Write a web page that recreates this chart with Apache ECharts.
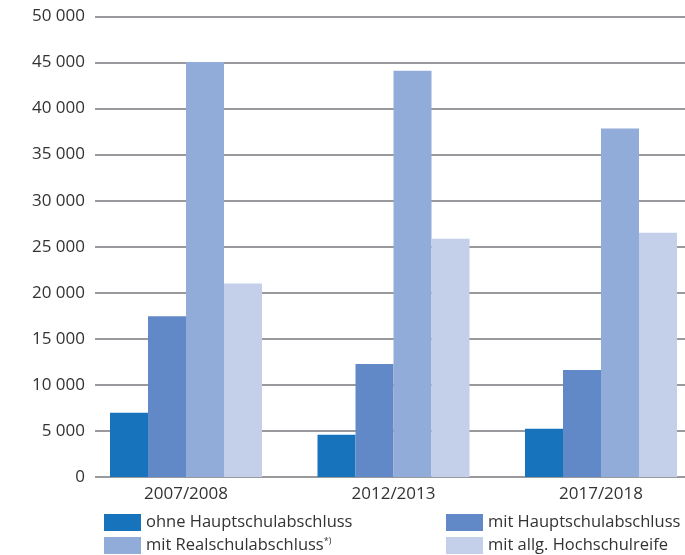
<!DOCTYPE html>
<html><head><meta charset="utf-8">
<script src="https://cdn.jsdelivr.net/npm/echarts@6/dist/echarts.min.js"></script>
<style>html,body{margin:0;padding:0;background:#fff}#c{width:685px;height:555px}</style>
</head><body><div id="c"></div>
<script>
const categories = ['2007/2008', '2012/2013', '2017/2018'];
const ohneHauptschul = [6980, 4600, 5250];
const mitHauptschul = [17450, 12270, 11620];
const mitRealschul = [45050, 44100, 37850];
const mitHochschulreife = [21000, 25860, 26510];
const seriesNames = ['ohne Hauptschulabschluss', 'mit Hauptschulabschluss', 'mit Realschulabschluss', 'mit allg. Hochschulreife'];
const yTicks = [0, 5000, 10000, 15000, 20000, 25000, 30000, 35000, 40000, 45000, 50000];
const colors = ['#1773bc', '#6289c7', '#91acd8', '#c4cfe9'];

const FONT = 'Open Sans';
const TEXT = '#333333';
const gTop = 16.5, gBottom = 78;
const chart = echarts.init(document.getElementById('c'));
const values = [ohneHauptschul, mitHauptschul, mitRealschul, mitHochschulreife];

function legendAt(i, left, topPos, fmt) {
  return {
    data: [seriesNames[i]], left: left, top: topPos, itemWidth: 37, itemHeight: 17,
    itemGap: 0, selectedMode: false, icon: 'rect', padding: 0,
    textStyle: { fontFamily: FONT, fontSize: 16.5, color: TEXT, padding: [0, 0, 0, 0],
      rich: { a: { fontFamily: FONT, fontSize: 16.5, color: TEXT }, s: { fontFamily: FONT, fontSize: 9, color: TEXT, verticalAlign: 'top', padding: [0, 0, 8, 0] } } },
    formatter: fmt
  };
}

chart.setOption({
  animation: false,
  grid: [
    { left: 82.25, width: 622.5, top: gTop, bottom: gBottom, outerBoundsMode: 'none', containLabel: false },
    { left: 95, right: 0, top: gTop, bottom: gBottom, outerBoundsMode: 'none', containLabel: false }
  ],
  xAxis: [
    { type: 'category', gridIndex: 0, data: categories,
      axisLine: { show: false }, axisTick: { show: false },
      axisLabel: { fontFamily: FONT, fontSize: 17, color: TEXT, margin: 9 } },
    { type: 'category', gridIndex: 1, data: categories, show: false }
  ],
  yAxis: [
    { type: 'value', gridIndex: 0, min: 0, max: 50000, interval: 5000, show: false, splitLine: { show: false } },
    { type: 'value', gridIndex: 1, min: 0, max: 50000, interval: 5000,
      axisLine: { show: false }, axisTick: { show: false },
      splitLine: { show: true, lineStyle: { color: '#9a9a9e', width: 2 } },
      axisLabel: { fontFamily: FONT, fontSize: 17, color: TEXT, margin: 10,
        formatter: v => yTicks.includes(v) ? String(v).replace(/\B(?=(\d{3})+(?!\d))/g, ' ') : '' } }
  ],
  legend: [
    legendAt(0, 104, 514, '{name}'),
    legendAt(1, 446, 514, '{name}'),
    legendAt(2, 104, 537, () => '{a|mit Realschulabschluss}{s|*)}'),
    legendAt(3, 446, 537, '{name}')
  ],
  series: values.map((d, i) => ({
    type: 'bar', name: seriesNames[i], data: d, xAxisIndex: 0, yAxisIndex: 0,
    barWidth: 38, barGap: '0%', itemStyle: { color: colors[i] }, z: 3
  }))
});
</script></body></html>
